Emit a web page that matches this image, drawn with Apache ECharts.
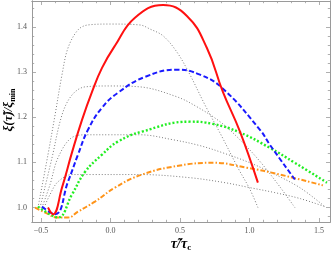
<!DOCTYPE html>
<html><head><meta charset="utf-8">
<script src="https://cdn.jsdelivr.net/npm/echarts@6/dist/echarts.min.js"></script>
<style>html,body{margin:0;padding:0;background:#fff}#c{width:332px;height:257px}</style>
</head><body><div id="c"></div>
<script>
// ---- data ----
const xTicks = [-0.5, 0.0, 0.5, 1.0, 1.5];
const yTicks = [1.0, 1.1, 1.2, 1.3, 1.4];
const xRange = [-0.565, 1.58];
const yRange = [0.968, 1.457];

const redCurve = [[-0.450,1.0],[-0.414,0.985],[-0.349,1.044],[-0.277,1.122],[-0.205,1.194],[-0.133,1.256],[-0.061,1.309],[0.032,1.358],[0.176,1.420],[0.378,1.448],[0.550,1.424],[0.694,1.353],[0.809,1.256],[0.932,1.168],[1.061,1.055]];
const blueCurve = [[-0.493,1.002],[-0.399,0.985],[-0.306,1.057],[-0.234,1.117],[-0.162,1.172],[-0.061,1.221],[0.054,1.254],[0.248,1.289],[0.478,1.305],[0.644,1.294],[0.809,1.263],[1.076,1.172],[1.147,1.139],[1.327,1.062]];
const greenCurve = [[-0.522,1.002],[-0.435,0.985],[-0.378,0.978],[-0.277,1.029],[-0.183,1.079],[-0.061,1.117],[0.054,1.146],[0.227,1.168],[0.572,1.190],[0.737,1.185],[0.932,1.166],[1.147,1.132],[1.327,1.099],[1.558,1.055]];
const orangeCurve = [[-0.543,1.0],[-0.471,0.989],[-0.378,0.978],[-0.306,0.978],[-0.234,0.991],[-0.112,1.013],[0.032,1.044],[0.227,1.073],[0.500,1.093],[0.737,1.099],[0.982,1.088],[1.219,1.073],[1.529,1.049]];

const gray1 = [[-0.522,1.0],[-0.450,1.117],[-0.399,1.205],[-0.349,1.294],[-0.306,1.353],[-0.234,1.393],[-0.162,1.404],[-0.004,1.406],[0.212,1.404],[0.284,1.395],[0.378,1.380],[0.478,1.344],[0.572,1.294],[0.680,1.227],[0.802,1.157],[0.917,1.088],[1.004,1.040],[1.061,1.0]];
const gray2 = [[-0.507,1.0],[-0.421,1.110],[-0.349,1.205],[-0.277,1.249],[-0.183,1.267],[-0.004,1.269],[0.212,1.267],[0.478,1.245],[0.622,1.223],[0.788,1.190],[0.932,1.150],[1.076,1.102],[1.219,1.046],[1.327,1.0]];
const gray3 = [[-0.493,1.0],[-0.435,1.051],[-0.378,1.110],[-0.277,1.155],[-0.162,1.161],[-0.004,1.161],[0.212,1.161],[0.450,1.150],[0.644,1.137],[0.809,1.121],[1.004,1.099],[1.147,1.079],[1.363,1.044],[1.543,1.002]];
const gray4 = [[-0.478,1.0],[-0.435,1.029],[-0.378,1.057],[-0.277,1.073],[-0.148,1.073],[0.212,1.073],[0.572,1.066],[0.824,1.055],[1.004,1.044],[1.183,1.033],[1.363,1.020],[1.543,1.002]];

// ---- chart ----
function minorsOf(major, step, lo, hi){
  const out=[];
  const start=Math.ceil(lo/step);
  for(let i=start;i*step<=hi+1e-9;i++){
    const v=+(i*step).toFixed(4);
    if(!major.some(m=>Math.abs(m-v)<1e-6)) out.push(v);
  }
  return out;
}
const xMinor = minorsOf(xTicks, 0.1, xRange[0], xRange[1]);
const yMinor = minorsOf(yTicks, 0.02, yRange[0], yRange[1]);
const fmt = v => (v<0?'\u2212':'') + Math.abs(v).toFixed(1);
const lineCol = '#9a9a9a';
const lblStyle = {color:'#555', fontFamily:'Liberation Serif', fontSize:8};

function axis(kind, pos, ticks, labels, len){
  const r = kind==='x'?xRange:yRange;
  return {
    type:'value', position:pos, min:r[0], max:r[1], gridIndex:0,
    axisLine:{show:true, onZero:false, lineStyle:{color:lineCol, width:1}},
    axisTick:{show:true, inside:true, length:len, customValues:ticks, lineStyle:{color:lineCol, width:0.8}},
    axisLabel:labels?Object.assign({show:true, customValues:ticks, formatter:fmt, margin:5}, lblStyle):{show:false},
    splitLine:{show:false}
  };
}

const chart = echarts.init(document.getElementById('c'), null, {renderer:'canvas'});
const grayLine = (d)=>({type:'line', data:d, showSymbol:false, smooth:0.35, silent:true,
  lineStyle:{color:'#6e6e6e', width:0.9, type:[1,2]}, z:1});
const colLine = (d, style, z)=>({type:'line', data:d, showSymbol:false, smooth:0.45, lineStyle:style, z:z});
chart.setOption({
  animation:false,
  grid:{left:32, right:2, top:1, bottom:35},
  xAxis:[axis('x','bottom',xTicks,true,4), axis('x','bottom',xMinor,false,2.2),
         axis('x','top',xTicks,false,4), axis('x','top',xMinor,false,2.2)],
  yAxis:[axis('y','left',yTicks,true,4), axis('y','left',yMinor,false,2.2),
         axis('y','right',yTicks,false,4), axis('y','right',yMinor,false,2.2)],
  series:[
    grayLine(gray1), grayLine(gray2), grayLine(gray3), grayLine(gray4),
    colLine(orangeCurve, {color:'#ff9419', width:2, type:[5,2,1.5,2]}, 3),
    colLine(greenCurve, {color:'#22ee22', width:2.4, type:[2,2]}, 4),
    colLine(blueCurve, {color:'#1a1aff', width:2, type:[5,2.5]}, 5),
    colLine(redCurve, {color:'#ff1010', width:2}, 6)
  ],
  graphic:[
    {type:'text', x:181, y:244, style:{
      text:'{a|τ\u0303/τ}{s|c}', align:'center', verticalAlign:'middle',
      rich:{a:{fontFamily:'Liberation Serif', fontSize:14, fontWeight:'bold', fontStyle:'italic', lineHeight:16, fill:'#000'},
            s:{fontFamily:'Liberation Serif', fontSize:9, fontWeight:'bold', lineHeight:16, padding:[7,0,0,0], fill:'#000', verticalAlign:'bottom'}}}},
    {type:'text', x:9, y:110, rotation:Math.PI/2, style:{
      text:'{a|ξ(τ\u0303)/ξ}{s|min}', align:'center', verticalAlign:'middle',
      rich:{a:{fontFamily:'Liberation Serif', fontSize:13, fontWeight:'bold', fontStyle:'italic', lineHeight:16, fill:'#000'},
            s:{fontFamily:'Liberation Serif', fontSize:8, fontWeight:'bold', lineHeight:16, padding:[6,0,0,0], fill:'#000', verticalAlign:'bottom'}}}}
  ]
});
</script></body></html>
